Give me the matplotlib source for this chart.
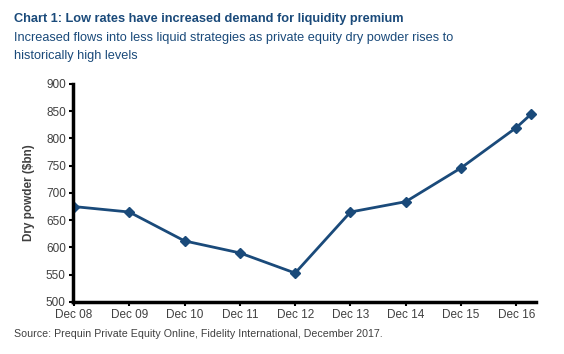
import matplotlib.pyplot as plt

# years after Dec 08 (last point is a partial year after Dec 16)
x_pos = [0, 1, 2, 3, 4, 5, 6, 7, 8, 8.27]
dry_powder = [675, 665, 612, 590, 553, 665, 684, 746, 820, 845]
tick_pos = [0, 1, 2, 3, 4, 5, 6, 7, 8]
tick_labels = ["Dec 08", "Dec 09", "Dec 10", "Dec 11", "Dec 12",
               "Dec 13", "Dec 14", "Dec 15", "Dec 16"]

plt.rcParams['font.family'] = ['Liberation Sans', 'DejaVu Sans']
navy = '#1a4a7a'
grey = '#404040'

fig = plt.figure(figsize=(5.64, 3.54), dpi=100)
ax = fig.add_axes([0.129, 0.147, 0.821, 0.616])

ax.plot(x_pos, dry_powder, color=navy, lw=2, marker='D', ms=5.5)

ax.set_xlim(-0.02, 8.35)
ax.set_ylim(500, 900)
ax.set_yticks(range(500, 901, 50))
ax.set_xticks(tick_pos)
ax.set_xticklabels(tick_labels)
ax.tick_params(colors='black', labelcolor=grey, labelsize=8.5, length=3, width=1.5, direction='out', pad=2)
ax.set_ylabel("Dry powder ($bn)", fontsize=8.5, fontweight='bold', color=grey, labelpad=8)

for s in ['top', 'right']:
    ax.spines[s].set_visible(False)
for s in ['left', 'bottom']:
    ax.spines[s].set_linewidth(2.5)

fig.text(0.025, 0.945, "Chart 1: Low rates have increased demand for liquidity premium",
         fontsize=9.2, fontweight='bold', color=navy, va='center')
fig.text(0.025, 0.893, "Increased flows into less liquid strategies as private equity dry powder rises to",
         fontsize=9.2, color=navy, va='center')
fig.text(0.025, 0.842, "historically high levels", fontsize=9.2, color=navy, va='center')
fig.text(0.025, 0.057, "Source: Prequin Private Equity Online, Fidelity International, December 2017.",
         fontsize=7.7, color=grey, va='center')

fig.savefig("out.png", dpi=100)
